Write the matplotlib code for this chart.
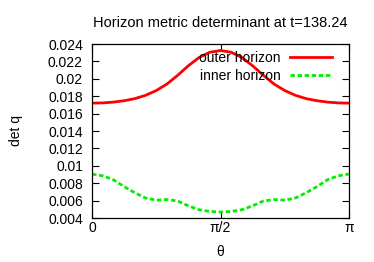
import numpy as np
import matplotlib
matplotlib.use("Agg")
import matplotlib.pyplot as plt

plt.rcParams['font.family'] = ['Liberation Sans', 'DejaVu Sans']

# theta samples (multiples of pi/24, 0..24)
k_index = list(range(25))
outer_half = [0.01720, 0.01723, 0.01732, 0.01748, 0.01772, 0.01810, 0.01865,
              0.01940, 0.02040, 0.02150, 0.02245, 0.02305, 0.02325]
inner_half = [0.00905, 0.00885, 0.00840, 0.00760, 0.00690, 0.00630, 0.00605,
              0.00612, 0.00595, 0.00540, 0.00495, 0.00475, 0.00468]
outer_values = outer_half + outer_half[-2::-1]
inner_values = inner_half + inner_half[-2::-1]

yticks = [0.004, 0.006, 0.008, 0.01, 0.012, 0.014, 0.016, 0.018, 0.02, 0.022, 0.024]
ytick_labels = ["0.004", "0.006", "0.008", "0.01", "0.012", "0.014", "0.016",
                "0.018", "0.02", "0.022", "0.024"]
xtick_labels = ["0", "π/2", "π"]

theta = np.array(k_index) * np.pi / 24

fig = plt.figure(figsize=(3.74, 2.62), dpi=100)
ax = fig.add_axes([92/374, 1-218/262, (349-92)/374, (218-44)/262])

ax.plot(theta, outer_values, color='#ff0000', lw=2.0, label='outer horizon')
ax.plot(theta, inner_values, color='#00ee00', lw=2.0, ls=(0, (1.6, 0.95)),
        label='inner horizon')

ax.set_xlim(0, np.pi)
ax.set_ylim(0.004, 0.024)
ax.set_xticks([0, np.pi/2, np.pi])
ax.set_xticklabels(xtick_labels)
ax.set_yticks(yticks)
ax.set_yticklabels(ytick_labels)
ax.tick_params(direction='in', length=5, width=0.8, top=True, right=True,
               labelsize=10)
ax.tick_params(axis='y', pad=6.5)
ax.tick_params(axis='x', pad=2.0)
for s in ax.spines.values():
    s.set_linewidth(0.9)

ax.set_title("Horizon metric determinant at t=138.24", fontsize=10.5, pad=12)
ax.set_ylabel("det q", fontsize=10, labelpad=18)
ax.set_xlabel("θ", fontsize=10, labelpad=7)

leg = ax.legend(loc='upper right', frameon=False, markerfirst=False,
                fontsize=10, handlelength=3.0, borderaxespad=0.0, borderpad=0.0,
                bbox_to_anchor=(0.934, 0.958),
                labelspacing=0.27, handletextpad=0.72)

fig.savefig("out.png", dpi=100)
